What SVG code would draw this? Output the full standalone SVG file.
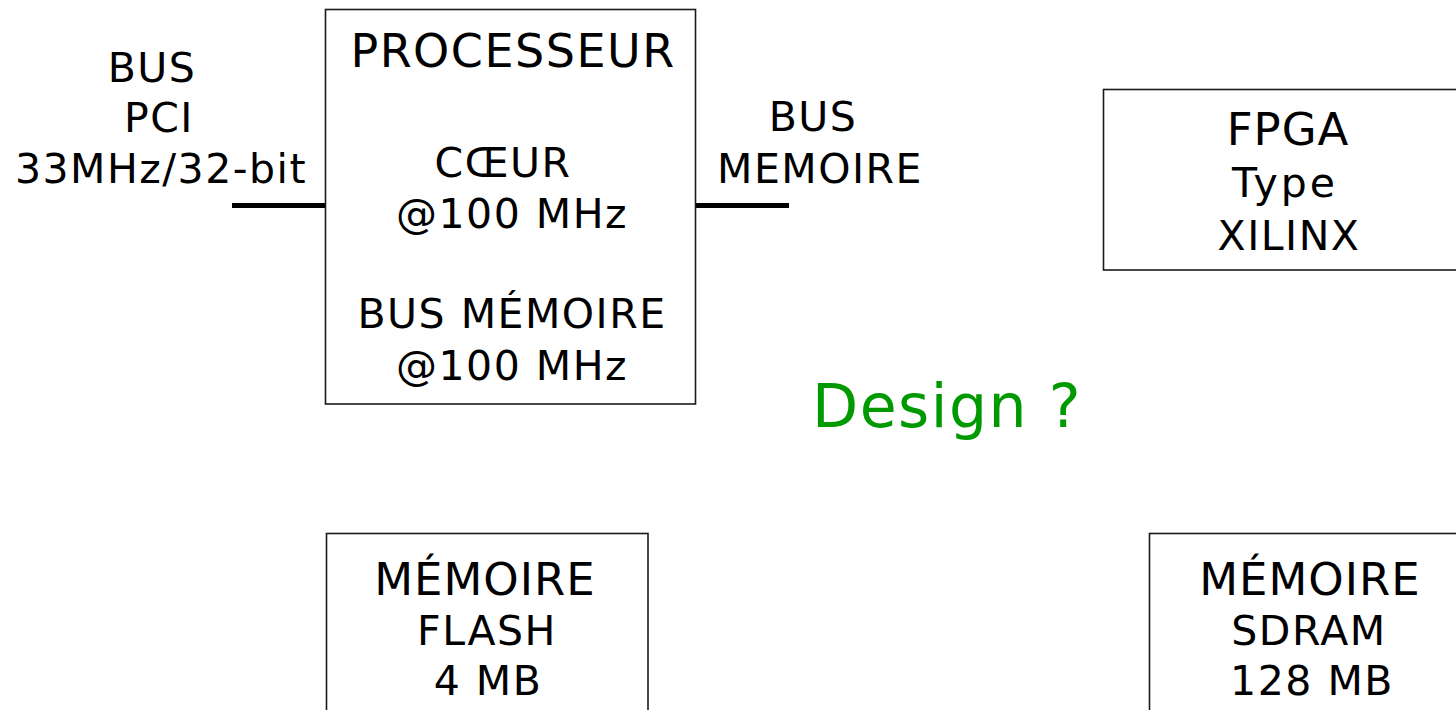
<svg xmlns="http://www.w3.org/2000/svg" width="1456" height="710" viewBox="0 0 1456 710">
<style>
.box{fill:#fff;stroke:#1a1a1a;stroke-width:1.6}
.bus{stroke:#000;stroke-width:5;fill:none}
text{font-family:"DejaVu Sans",Verdana,sans-serif;fill:#000;text-anchor:middle;font-size:41px;letter-spacing:1.5px}
.big{font-size:46px}
.mem{font-size:45px;letter-spacing:1px}
.green{fill:#009900;font-size:60px}
</style>
<rect width="1456" height="710" fill="#fff"/>
<g id="connectors">
<line class="bus" x1="232" y1="205.5" x2="326" y2="205.5"/>
<line class="bus" x1="695" y1="205.5" x2="789" y2="205.5"/>
</g>
<g id="pci-label">
<text x="152" y="82">BUS</text>
<text x="159" y="132">PCI</text>
<text x="161" y="183">33MHz/32-bit</text>
</g>
<g id="processeur">
<rect class="box" x="325.5" y="9.5" width="370" height="394.5"/>
<text class="big" x="513" y="67">PROCESSEUR</text>
<text x="503" y="177">CŒUR</text>
<text x="512" y="228">@100 MHz</text>
<text x="512" y="328">BUS MÉMOIRE</text>
<text x="512" y="380">@100 MHz</text>
</g>
<g id="bus-memoire-label">
<text x="813" y="131">BUS</text>
<text x="820" y="183">MEMOIRE</text>
</g>
<g id="fpga">
<rect class="box" x="1103.5" y="89.5" width="360" height="180.5"/>
<text class="mem" x="1288" y="145">FPGA</text>
<text x="1285" y="197" style="letter-spacing:3px">Type</text>
<text x="1289" y="250">XILINX</text>
</g>
<text class="green" x="947" y="427">Design ?</text>
<g id="flash">
<rect class="box" x="326.5" y="533.5" width="321.5" height="190"/>
<text class="mem" x="485" y="595">MÉMOIRE</text>
<text x="487" y="645">FLASH</text>
<text x="488" y="695">4 MB</text>
</g>
<g id="sdram">
<rect class="box" x="1149.5" y="533.5" width="320" height="190"/>
<text class="mem" x="1310" y="595">MÉMOIRE</text>
<text x="1309" y="645">SDRAM</text>
<text x="1312" y="695">128 MB</text>
</g>
</svg>
